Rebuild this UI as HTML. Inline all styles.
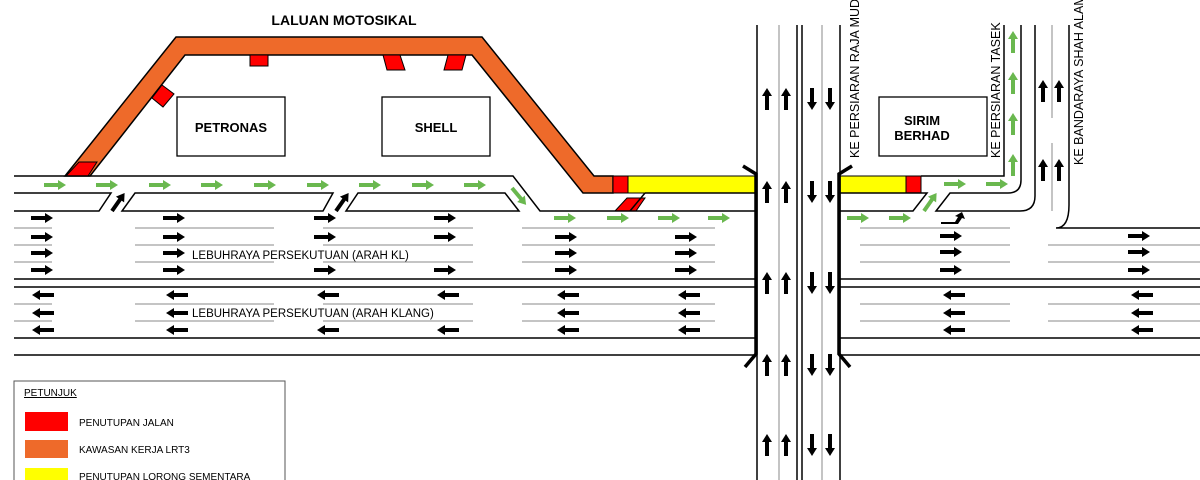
<!DOCTYPE html>
<html><head><meta charset="utf-8"><style>
html,body{margin:0;padding:0;background:#fff}
svg{display:block}
text{font-family:"Liberation Sans",Arial,sans-serif}
</style></head><body>
<svg width="1200" height="480" viewBox="0 0 1200 480" xmlns="http://www.w3.org/2000/svg">
<defs>
<path id="ab" d="M0,-2 H14 V-5 L22,0 L14,5 V2 H0Z" fill="#000"/>
<path id="ag" d="M0,-2 H14 V-5 L22,0 L14,5 V2 H0Z" fill="#6ab84f"/>
</defs>
<rect width="1200" height="480" fill="#fff"/>

<text x="344" y="25" font-size="14" font-weight="bold" text-anchor="middle">LALUAN MOTOSIKAL</text>

<polygon points="65,176 176,37 482,37 594,176 613,176 613,193 583,193 472,55 185,55 90,176" fill="#ee6a2a" stroke="#000" stroke-width="1.5"/>
<polygon points="66,176 79,162 97,162 88,176" fill="#f00" stroke="#000" stroke-width="1"/>
<polygon points="250,55 268,55 268,66 250,66" fill="#f00" stroke="#000" stroke-width="1"/>
<polygon points="383,55 400,55 405,70 387,70" fill="#f00" stroke="#000" stroke-width="1"/>
<polygon points="448,55 466,55 462,70 444,70" fill="#f00" stroke="#000" stroke-width="1"/>
<polygon points="162,85 174,94 163,107 152,98" fill="#f00" stroke="#000" stroke-width="1"/>

<rect x="177" y="97" width="108" height="59" fill="#fff" stroke="#000" stroke-width="1.3"/>
<text x="231" y="132" font-size="13" font-weight="bold" text-anchor="middle">PETRONAS</text>
<rect x="382" y="97" width="108" height="59" fill="#fff" stroke="#000" stroke-width="1.3"/>
<text x="436" y="132" font-size="13" font-weight="bold" text-anchor="middle">SHELL</text>
<rect x="879" y="97" width="108" height="59" fill="#fff" stroke="#000" stroke-width="1.3"/>
<text x="922" y="125" font-size="13" font-weight="bold" text-anchor="middle">SIRIM</text>
<text x="922" y="140" font-size="13" font-weight="bold" text-anchor="middle">BERHAD</text>

<rect x="613" y="176" width="15" height="17" fill="#f00" stroke="#000" stroke-width="1"/>
<rect x="628" y="176" width="127" height="17" fill="#ff0" stroke="#000" stroke-width="1"/>
<polygon points="615,211 627,198 645,198 636,211" fill="#f00" stroke="#000" stroke-width="1"/>
<rect x="840" y="176" width="66" height="17" fill="#ff0" stroke="#000" stroke-width="1"/>
<rect x="906" y="176" width="15" height="17" fill="#f00" stroke="#000" stroke-width="1"/>

<g fill="none" stroke="#000" stroke-width="1.5">
<polyline points="14,176 513,176 540,211 755,211"/>
<polyline points="14,193 111,193 99,211 14,211"/>
<polygon points="135,193 333,193 323,211 122,211"/>
<polygon points="358,193 505,193 519,211 346,211"/>
<polyline points="645,193 755,193"/>
<line x1="645" y1="193" x2="630" y2="211"/>
<line x1="14" y1="279" x2="755" y2="279"/>
<line x1="14" y1="287" x2="755" y2="287"/>
<line x1="14" y1="338" x2="755" y2="338"/>
<line x1="14" y1="355" x2="755" y2="355"/>
<line x1="840" y1="279" x2="1200" y2="279"/>
<line x1="840" y1="287" x2="1200" y2="287"/>
<line x1="840" y1="338" x2="1200" y2="338"/>
<line x1="840" y1="355" x2="1200" y2="355"/>
<polyline points="921,176 1004,176 1004,25"/>
<polyline points="840,193 927,193 913,211 840,211"/>
<path d="M1021,25 V180 Q1021,193 1008,193 H950 L936,211 H1020 Q1035,211 1035,196 V25"/>
<path d="M1069,25 V205 Q1069,228 1056,228 H1200"/>
<line x1="757" y1="25" x2="757" y2="480"/>
<line x1="797" y1="25" x2="797" y2="480"/>
<line x1="802" y1="25" x2="802" y2="480"/>
<line x1="840" y1="25" x2="840" y2="480"/>
</g>
<g stroke="#000" stroke-width="3.5" fill="none">
<polyline points="743,166 756,174 756,354 745,367"/>
<polyline points="852,166 839,174 839,354 850,367"/>
</g>
<g stroke="#888" stroke-width="1">
<line x1="779" y1="25" x2="779" y2="480"/>
<line x1="822" y1="25" x2="822" y2="480"/>
<line x1="1052" y1="25" x2="1052" y2="118"/>
<line x1="1052" y1="143" x2="1052" y2="211"/>
</g>
<g stroke="#888" stroke-width="1">
<path d="M14,228H52M135,228H274M323,228H473M522,228H715M14,245H52M135,245H274M323,245H473M522,245H715M14,262H52M135,262H274M323,262H473M522,262H715M14,304H52M135,304H274M323,304H473M522,304H715M14,321H52M135,321H274M323,321H473M522,321H715"/>
<path d="M860,228H1010M860,245H1010M1048,245H1200M860,262H1010M1048,262H1200M860,304H1010M1048,304H1200M860,321H1010M1048,321H1200"/>
</g>

<text x="192" y="259" font-size="11.5">LEBUHRAYA PERSEKUTUAN (ARAH KL)</text>
<text x="192" y="317" font-size="11.5">LEBUHRAYA PERSEKUTUAN (ARAH KLANG)</text>
<text transform="translate(859,158) rotate(-90)" font-size="12.5">KE PERSIARAN RAJA MUDA MUSA</text>
<text transform="translate(1000,158) rotate(-90)" font-size="12.5">KE PERSIARAN TASEK</text>
<text transform="translate(1083,165) rotate(-90)" font-size="12.5">KE BANDARAYA SHAH ALAM</text>

<g>
<use href="#ag" x="44" y="185"/><use href="#ag" x="96" y="185"/><use href="#ag" x="149" y="185"/><use href="#ag" x="201" y="185"/><use href="#ag" x="254" y="185"/><use href="#ag" x="307" y="185"/><use href="#ag" x="359" y="185"/><use href="#ag" x="412" y="185"/><use href="#ag" x="464" y="185"/>
<use href="#ag" transform="translate(512,188) rotate(50)"/>
<use href="#ag" x="554" y="218"/><use href="#ag" x="607" y="218"/><use href="#ag" x="658" y="218"/><use href="#ag" x="708" y="218"/>
<use href="#ag" x="847" y="218"/><use href="#ag" x="889" y="218"/>
<use href="#ag" transform="translate(924,211) rotate(-55)"/>
<use href="#ag" x="944" y="184"/><use href="#ag" x="986" y="184"/>
<use href="#ag" transform="translate(1013,176) rotate(-90)"/>
<use href="#ag" transform="translate(1013,135) rotate(-90)"/>
<use href="#ag" transform="translate(1013,94) rotate(-90)"/>
<use href="#ag" transform="translate(1013,53) rotate(-90)"/>
</g>
<g>
<use href="#ab" transform="translate(112,211) rotate(-55)"/>
<use href="#ab" transform="translate(336,211) rotate(-55)"/>
<path d="M941,222 H955 L958,217 L955,216 L962,212 L965,219 L962,218 L958,224 H941Z" fill="#000"/>
</g>
<g>
<use href="#ab" x="31" y="218"/><use href="#ab" x="163" y="218"/><use href="#ab" x="314" y="218"/><use href="#ab" x="434" y="218"/><use href="#ab" x="555" y="237"/><use href="#ab" x="675" y="237"/>
<use href="#ab" x="31" y="237"/><use href="#ab" x="163" y="237"/><use href="#ab" x="314" y="237"/><use href="#ab" x="434" y="237"/>
<use href="#ab" x="31" y="253"/><use href="#ab" x="163" y="253"/><use href="#ab" x="555" y="253"/><use href="#ab" x="675" y="253"/>
<use href="#ab" x="31" y="270"/><use href="#ab" x="163" y="270"/><use href="#ab" x="314" y="270"/><use href="#ab" x="434" y="270"/><use href="#ab" x="555" y="270"/><use href="#ab" x="675" y="270"/>
<use href="#ab" x="940" y="236"/><use href="#ab" x="1128" y="236"/>
<use href="#ab" x="940" y="252"/><use href="#ab" x="1128" y="252"/>
<use href="#ab" x="940" y="270"/><use href="#ab" x="1128" y="270"/>
</g>
<g>
<use href="#ab" transform="translate(54,295) rotate(180)"/><use href="#ab" transform="translate(188,295) rotate(180)"/><use href="#ab" transform="translate(339,295) rotate(180)"/><use href="#ab" transform="translate(459,295) rotate(180)"/><use href="#ab" transform="translate(579,295) rotate(180)"/><use href="#ab" transform="translate(700,295) rotate(180)"/><use href="#ab" transform="translate(965,295) rotate(180)"/><use href="#ab" transform="translate(1153,295) rotate(180)"/>
<use href="#ab" transform="translate(54,313) rotate(180)"/><use href="#ab" transform="translate(188,313) rotate(180)"/><use href="#ab" transform="translate(579,313) rotate(180)"/><use href="#ab" transform="translate(700,313) rotate(180)"/><use href="#ab" transform="translate(965,313) rotate(180)"/><use href="#ab" transform="translate(1153,313) rotate(180)"/>
<use href="#ab" transform="translate(54,330) rotate(180)"/><use href="#ab" transform="translate(188,330) rotate(180)"/><use href="#ab" transform="translate(339,330) rotate(180)"/><use href="#ab" transform="translate(459,330) rotate(180)"/><use href="#ab" transform="translate(579,330) rotate(180)"/><use href="#ab" transform="translate(700,330) rotate(180)"/><use href="#ab" transform="translate(965,330) rotate(180)"/><use href="#ab" transform="translate(1153,330) rotate(180)"/>
</g>
<g>
<use href="#ab" transform="translate(767,110) rotate(-90)"/><use href="#ab" transform="translate(786,110) rotate(-90)"/>
<use href="#ab" transform="translate(812,88) rotate(90)"/><use href="#ab" transform="translate(830,88) rotate(90)"/>
<use href="#ab" transform="translate(767,203) rotate(-90)"/><use href="#ab" transform="translate(786,203) rotate(-90)"/>
<use href="#ab" transform="translate(812,181) rotate(90)"/><use href="#ab" transform="translate(830,181) rotate(90)"/>
<use href="#ab" transform="translate(767,294) rotate(-90)"/><use href="#ab" transform="translate(786,294) rotate(-90)"/>
<use href="#ab" transform="translate(812,272) rotate(90)"/><use href="#ab" transform="translate(830,272) rotate(90)"/>
<use href="#ab" transform="translate(767,376) rotate(-90)"/><use href="#ab" transform="translate(786,376) rotate(-90)"/>
<use href="#ab" transform="translate(812,354) rotate(90)"/><use href="#ab" transform="translate(830,354) rotate(90)"/>
<use href="#ab" transform="translate(767,456) rotate(-90)"/><use href="#ab" transform="translate(786,456) rotate(-90)"/>
<use href="#ab" transform="translate(812,434) rotate(90)"/><use href="#ab" transform="translate(830,434) rotate(90)"/>
<use href="#ab" transform="translate(1043,102) rotate(-90)"/><use href="#ab" transform="translate(1059,102) rotate(-90)"/>
<use href="#ab" transform="translate(1043,181) rotate(-90)"/><use href="#ab" transform="translate(1059,181) rotate(-90)"/>
</g>

<rect x="14" y="381" width="271" height="110" fill="#fff" stroke="#555" stroke-width="1"/>
<text x="24" y="396" font-size="10" text-decoration="underline">PETUNJUK</text>
<rect x="25" y="412" width="43" height="19" fill="#f00"/>
<text x="79" y="426" font-size="10">PENUTUPAN JALAN</text>
<rect x="25" y="440" width="43" height="18" fill="#ee6a2a"/>
<text x="79" y="453" font-size="10">KAWASAN KERJA LRT3</text>
<rect x="25" y="468" width="43" height="18" fill="#ff0"/>
<text x="79" y="480" font-size="10">PENUTUPAN LORONG SEMENTARA</text>
</svg>
</body></html>
